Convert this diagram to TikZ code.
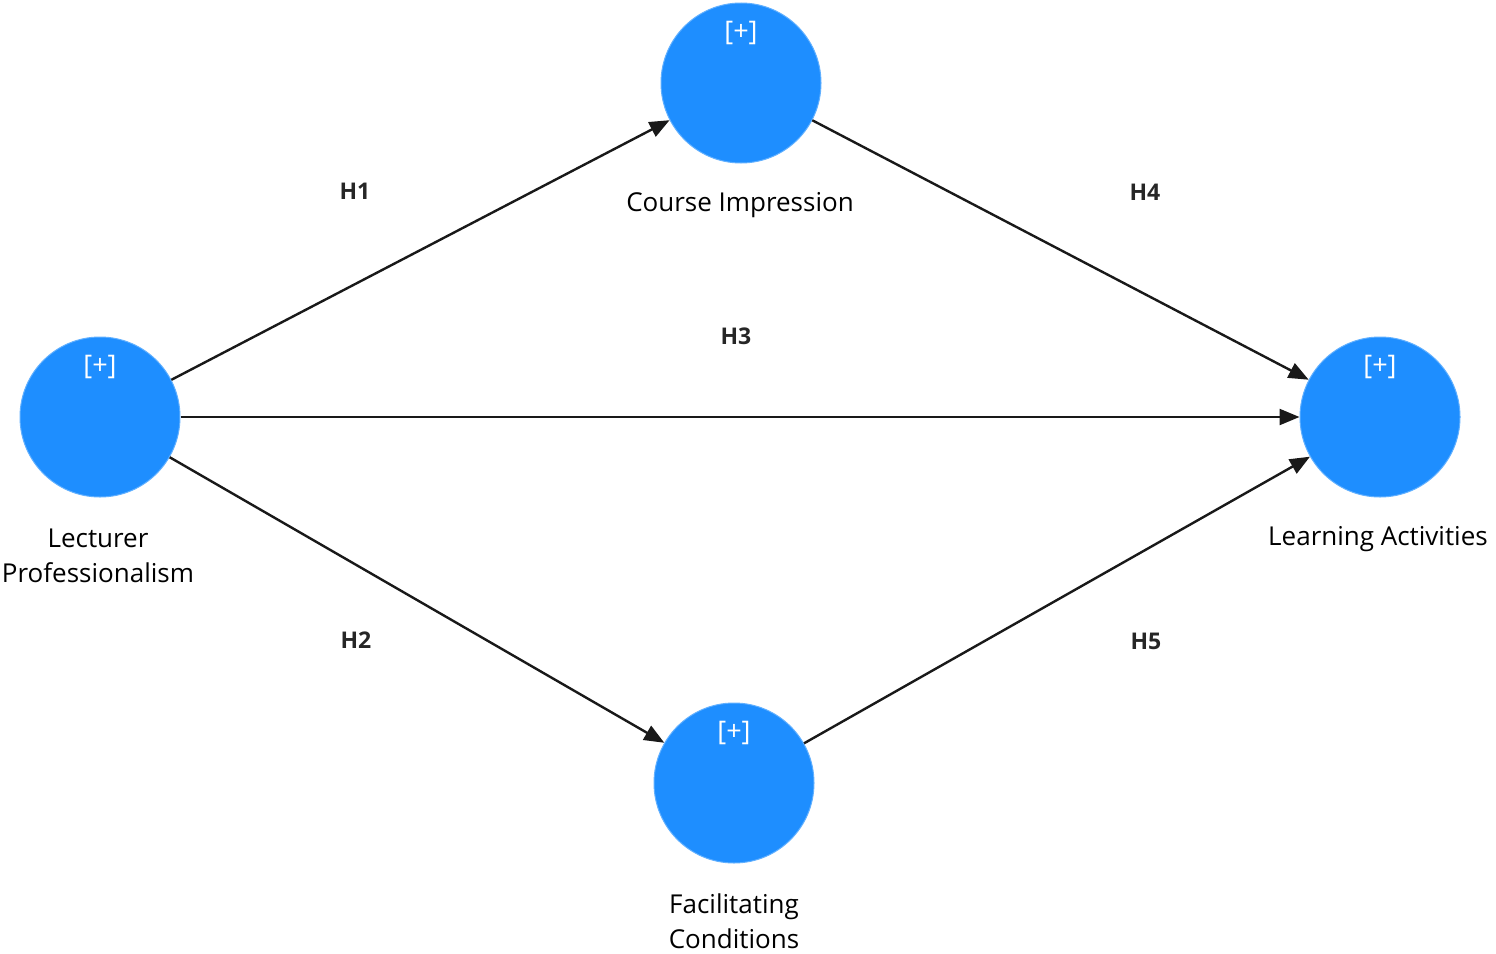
\documentclass[tikz,border=0pt]{standalone}
\usepackage{fontspec}
\setmainfont{Open Sans}
\usetikzlibrary{arrows.meta}
\definecolor{nodeblue}{RGB}{30,142,255}
\tikzset{
  lv/.style={circle, fill=nodeblue, draw=nodeblue!70!white, line width=1pt, minimum size=160pt, inner sep=0pt},
  plus/.style={text=white, font=\fontsize{27pt}{29pt}\selectfont},
  lbl/.style={align=center, font=\fontsize{26pt}{35pt}\selectfont, text=black, inner sep=1pt},
  hyp/.style={font=\bfseries\fontsize{23pt}{25pt}\selectfont, text=black!85},
  path/.style={draw=black!90, line width=2.4pt, -{Triangle[length=20pt,width=16pt]}}
}
\begin{document}
\begin{tikzpicture}[x=1pt,y=-1pt]
\useasboundingbox (0,0) rectangle (1496,953);
\node[lv] (lp) at (100,417) {};
\node[lv] (ci) at (741,83) {};
\node[lv] (la) at (1380,417) {};
\node[lv] (fc) at (734,783) {};
\node[plus] (lpp) at (100,367) {[+]};
\node[plus] (cip) at (741,33) {[+]};
\node[plus] (lap) at (1380,367) {[+]};
\node[plus] (fcp) at (734,733) {[+]};
\node[lbl] (lpl) at (98,556) {Lecturer\\Professionalism};
\node[lbl] (cil) at (740,205) {Course Impression};
\node[lbl] (lal) at (1378,539) {Learning Activities};
\node[lbl] (fcl) at (734,921) {Facilitating\\Conditions};
\draw[path] (lp) -- (ci);
\draw[path] (lp) -- (fc);
\draw[path] (lp) -- (la);
\draw[path] (ci) -- (la);
\draw[path] (fc) -- (la);
\node[hyp] (h1) at (355,191) {H1};
\node[hyp] (h2) at (356,640) {H2};
\node[hyp] (h3) at (736,336) {H3};
\node[hyp] (h4) at (1145,192) {H4};
\node[hyp] (h5) at (1146,641) {H5};
\end{tikzpicture}
\end{document}
